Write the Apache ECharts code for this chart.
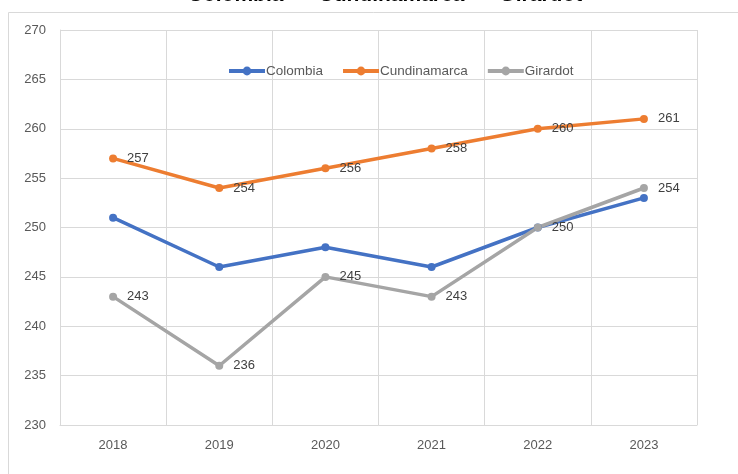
<!DOCTYPE html>
<html>
<head>
<meta charset="utf-8">
<script src="https://cdn.jsdelivr.net/npm/echarts@6/dist/echarts.min.js"></script>
<style>
  html, body { margin: 0; padding: 0; background: #fff; }
  #chart { width: 738px; height: 474px; }
</style>
</head>
<body>
<div id="chart"></div>
<script>
const years = ['2018', '2019', '2020', '2021', '2022', '2023'];
const colombia = [251, 246, 248, 246, 250, 253];
const cundinamarca = [257, 254, 256, 258, 260, 261];
const girardot = [243, 236, 245, 243, 250, 254];

const font = 'Liberation Sans, Arial, sans-serif';

function lineSeries(name, data, color, showLabel) {
  return {
    name: name,
    type: 'line',
    data: data,
    symbol: 'circle',
    symbolSize: 8,
    itemStyle: { color: color },
    lineStyle: { width: 3.5, color: color },
    label: {
      show: showLabel,
      position: 'right',
      distance: 10,
      color: '#404040',
      fontSize: 13,
      fontFamily: font
    }
  };
}

const chart = echarts.init(document.getElementById('chart'));
chart.setOption({
  animation: false,
  title: {
    text: 'Colombia  –  Cundinamarca  –  Girardot',
    left: 380,
    textAlign: 'center',
    top: -20,
    textStyle: { fontSize: 21, fontWeight: 'bold', color: '#000', fontFamily: font }
  },
  graphic: [{
    type: 'rect',
    shape: { x: 8.5, y: 12.5, width: 760, height: 500 },
    style: { fill: 'none', stroke: '#d9d9d9', lineWidth: 1 },
    silent: true,
    z: -1
  }],
  legend: {
    top: 59,
    left: 222,
    itemWidth: 36,
    itemHeight: 11,
    itemGap: 18,
    lineStyle: { width: 4 },
    textStyle: { color: '#595959', fontSize: 13.5, fontFamily: font, padding: [0, 0, 0, -4] },
    data: ['Colombia', 'Cundinamarca', 'Girardot']
  },
  grid: { left: 60, right: 41, top: 30, bottom: 49 },
  xAxis: {
    type: 'category',
    data: years,
    boundaryGap: true,
    axisLine: { lineStyle: { color: '#d9d9d9' } },
    axisTick: { show: false },
    axisLabel: { color: '#595959', fontSize: 13, fontFamily: font, margin: 14 },
    splitLine: { show: true, lineStyle: { color: '#d9d9d9' } }
  },
  yAxis: {
    type: 'value',
    min: 230,
    max: 270,
    interval: 5,
    axisLine: { show: true, lineStyle: { color: '#d9d9d9' } },
    axisTick: { show: false },
    axisLabel: { color: '#595959', fontSize: 13, fontFamily: font, margin: 14 },
    splitLine: { lineStyle: { color: '#d9d9d9' } }
  },
  series: [
    lineSeries('Colombia', colombia, '#4472C4', false),
    lineSeries('Cundinamarca', cundinamarca, '#ED7D31', true),
    lineSeries('Girardot', girardot, '#A5A5A5', true)
  ]
});
</script>
</body>
</html>
